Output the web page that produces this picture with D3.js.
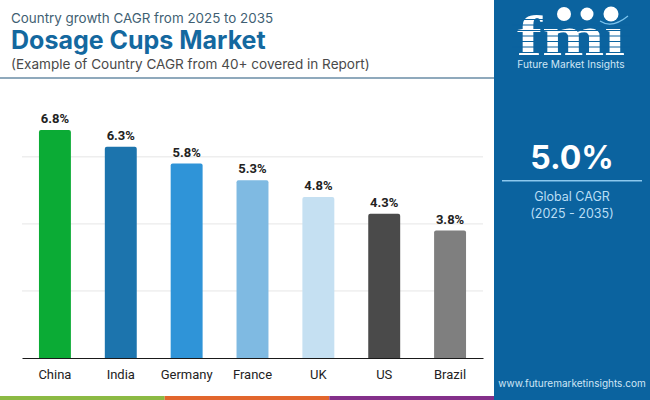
<!DOCTYPE html>
<html>
<head>
<meta charset="utf-8">
<script src="https://cdn.jsdelivr.net/npm/d3@7"></script>
<style>
  html, body { margin: 0; padding: 0; background: #fff; }
  svg { display: block; }
  text { font-family: Inter, "Noto Sans", sans-serif; }
  .tick-label { font-family: Roboto, sans-serif; font-size: 13px; fill: #222; }
</style>
</head>
<body>
<svg id="chart" width="650" height="400"></svg>
<script>
// ── Data ───────────────────────────────────────────────────────────────────
const countries = ['China', 'India', 'Germany', 'France', 'UK', 'US', 'Brazil'];
const cagr = [6.8, 6.3, 5.8, 5.3, 4.8, 4.3, 3.8];
const barColors = ['#0bab35', '#1c74ad', '#2f94d8', '#7fbae2', '#c5e0f2', '#4a4a4a', '#7f7f7f'];
const gridTicks = [2, 4, 6];
const footerColors = ['#8cba44', '#e2662d', '#84308a'];

const svg = d3.select('#chart');

// ── Chart ──────────────────────────────────────────────────────────────────
const x = d3.scaleBand().domain(countries).range([22, 483]).paddingInner(0.515).paddingOuter(0.2575);
const y = d3.scaleLinear().domain([0, 8]).range([358, 89.8]);

svg.append('g').selectAll('line').data(gridTicks).join('line')
  .attr('x1', 22).attr('x2', 483)
  .attr('y1', d => y(d)).attr('y2', d => y(d))
  .attr('stroke', '#e6e6e6').attr('stroke-width', 1);

svg.append('g').selectAll('path').data(countries).join('path')
  .attr('fill', (d, i) => barColors[i])
  .attr('d', (d, i) => {
    const x0 = x(d), w = x.bandwidth(), t = y(cagr[i]), r = 2;
    return `M${x0},${y(0)}V${t + r}Q${x0},${t} ${x0 + r},${t}H${x0 + w - r}Q${x0 + w},${t} ${x0 + w},${t + r}V${y(0)}Z`;
  });

svg.append('g').selectAll('text').data(countries).join('text')
  .attr('x', d => x(d) + x.bandwidth() / 2)
  .attr('y', (d, i) => y(cagr[i]) - 7)
  .attr('text-anchor', 'middle')
  .attr('font-size', 13).attr('font-weight', 700).attr('fill', '#222')
  .style('font-family', 'Roboto, sans-serif')
  .text((d, i) => cagr[i].toFixed(1) + '%');

const axis = d3.axisBottom(x).tickSize(0).tickPadding(12);
const axisG = svg.append('g').attr('transform', `translate(0,${y(0)})`).call(axis);
axisG.select('.domain').attr('stroke', '#1a1a1a').attr('stroke-width', 1);
axisG.selectAll('text').attr('class', 'tick-label').attr('fill', null);

// ── Header ─────────────────────────────────────────────────────────────────
svg.append('text').attr('x', 11).attr('y', 23)
  .attr('font-size', 13.4).attr('fill', '#3f5f73')
  .text('Country growth CAGR from 2025 to 2035');
svg.append('text').attr('x', 11).attr('y', 49)
  .attr('font-size', 25).attr('font-weight', 700).attr('fill', '#14689f')
  .text('Dosage Cups Market');
svg.append('text').attr('x', 11).attr('y', 69)
  .attr('font-size', 13.55).attr('fill', '#4a4a4a')
  .text('(Example of Country CAGR from 40+ covered in Report)');
svg.append('rect').attr('x', 0).attr('y', 77).attr('width', 494).attr('height', 2).attr('fill', '#8fa9bc');

// ── Footer strip ───────────────────────────────────────────────────────────
const footerX = d3.scaleBand().domain(d3.range(footerColors.length)).range([0, 494]);
svg.append('g').selectAll('rect').data(footerColors).join('rect')
  .attr('x', (d, i) => footerX(i)).attr('y', 396)
  .attr('width', footerX.bandwidth()).attr('height', 4)
  .attr('fill', d => d);

// ── Side panel ─────────────────────────────────────────────────────────────
const panelBlue = '#0b639f';
svg.append('rect').attr('x', 494).attr('y', 0).attr('width', 156).attr('height', 400).attr('fill', panelBlue);

// logo: big letters cut by thin stripes, dotless i so the globe sits on top
const logo = svg.append('g');
logo.append('text').attr('x', 571).attr('y', 55).attr('text-anchor', 'middle')
  .attr('font-size', 58).attr('font-weight', 700).attr('fill', '#fff')
  .style('font-family', '"Liberation Serif", serif')
  .attr('textLength', 108).attr('lengthAdjust', 'spacingAndGlyphs')
  .text('fm\u0131');
logo.append('g').selectAll('rect').data(d3.range(19, 56, 5.5)).join('rect')
  .attr('x', 512).attr('y', d => d).attr('width', 118).attr('height', 1)
  .attr('fill', panelBlue);
logo.append('g').selectAll('circle').data([[564, 14, 7], [587, 14, 6.5], [611, 14, 7.5]]).join('circle')
  .attr('cx', d => d[0]).attr('cy', d => d[1]).attr('r', d => d[2])
  .attr('fill', '#fff');
logo.append('path').attr('d', 'M600,21Q612,29 628,16')
  .attr('fill', 'none').attr('stroke', '#7cc4ee').attr('stroke-width', 1.2);
logo.append('text').attr('x', 571).attr('y', 68).attr('text-anchor', 'middle')
  .attr('font-size', 10.2).attr('fill', '#cfe6f6')
  .text('Future Market Insights');

svg.append('text').attr('x', 572).attr('y', 169).attr('text-anchor', 'middle')
  .attr('font-size', 32).attr('font-weight', 700).attr('fill', '#fff')
  .text('5.0%');
svg.append('rect').attr('x', 502).attr('y', 180).attr('width', 140).attr('height', 1.5).attr('fill', '#8cc8ee');
svg.append('text').attr('x', 572).attr('y', 201).attr('text-anchor', 'middle')
  .attr('font-size', 12.5).attr('fill', '#b9def5')
  .text('Global CAGR');
svg.append('text').attr('x', 572).attr('y', 218).attr('text-anchor', 'middle')
  .attr('font-size', 12.5).attr('fill', '#b9def5')
  .text('(2025 - 2035)');
svg.append('text').attr('x', 572).attr('y', 387).attr('text-anchor', 'middle')
  .attr('font-size', 10).attr('fill', '#cfe6f6')
  .text('www.futuremarketinsights.com');
</script>
</body>
</html>
